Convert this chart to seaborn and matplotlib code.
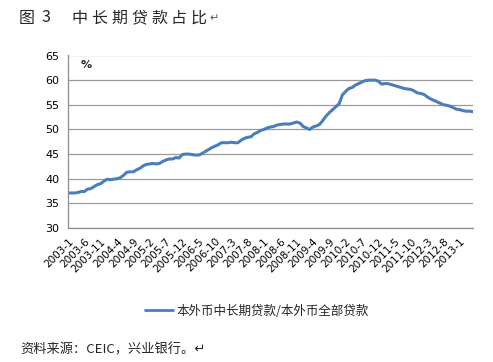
import numpy as np
import pandas as pd
import seaborn as sns
import matplotlib.pyplot as plt
from matplotlib.lines import Line2D

# ------------------ DATA ------------------
START_YEAR = 2003
START_MONTH = 1
ratio = [
    37.1, 37.1, 37.1, 37.2, 37.4, 37.4, 37.9, 38.0, 38.4, 38.8,
    39.0, 39.5, 39.9, 39.8, 39.9, 40.0, 40.2, 40.7, 41.3, 41.4,
    41.4, 41.8, 42.1, 42.6, 42.9, 43.0, 43.1, 43.0, 43.1, 43.5,
    43.8, 44.0, 44.0, 44.3, 44.2, 44.9, 45.0, 45.0, 44.9, 44.8,
    44.8, 45.1, 45.5, 45.9, 46.3, 46.6, 46.9, 47.3, 47.3, 47.3,
    47.4, 47.3, 47.3, 47.8, 48.2, 48.4, 48.5, 49.1, 49.4, 49.8,
    50.0, 50.3, 50.5, 50.6, 50.9, 51.0, 51.1, 51.1, 51.1, 51.3,
    51.5, 51.3, 50.6, 50.3, 50.0, 50.5, 50.7, 51.0, 51.8, 52.7,
    53.4, 54.0, 54.6, 55.2, 57.0, 57.7, 58.3, 58.5, 59.0, 59.3,
    59.6, 59.9, 60.0, 60.0, 60.0, 59.8, 59.2, 59.3, 59.3, 59.1,
    58.9, 58.7, 58.5, 58.3, 58.2, 58.1, 57.8, 57.4, 57.3, 57.1,
    56.6, 56.2, 55.9, 55.6, 55.3, 55.0, 54.9, 54.7, 54.4, 54.1,
    54.0, 53.8, 53.7, 53.7, 53.6,
]
y_ticks = [30, 35, 40, 45, 50, 55, 60, 65]
series_name = '本外币中长期贷款/本外币全部贷款'
fig_label = '图'
fig_num = '3'
title = '中长期贷款占比'
source = '资料来源：CEIC，兴业银行。↵'
# ------------------------------------------

months = []
for i in range(len(ratio)):
    m = START_MONTH - 1 + i
    months.append(f"{START_YEAR + m // 12}-{m % 12 + 1}")
df = pd.DataFrame({'idx': range(len(ratio)), 'month': months, 'ratio': ratio})

sns.set_style('white')
plt.rcParams['font.family'] = ['Noto Sans CJK SC', 'DejaVu Sans']

W, H = 493, 362
fig = plt.figure(figsize=(W / 100, H / 100), dpi=100)
ax = fig.add_axes([68 / W, 1 - 228 / H, 405 / W, (228 - 55.5) / H])

line_color = '#4a7ebb'
sns.lineplot(data=df, x='idx', y='ratio', ax=ax, color=line_color, linewidth=2.2)

ax.set_xlim(0, len(ratio) - 1)
ax.set_ylim(30, 65)
ax.set_yticks(y_ticks)
ax.set_yticklabels([str(v) for v in y_ticks], fontsize=8, family='DejaVu Sans')
tick_idx = list(range(0, len(ratio), 5))
ax.set_xticks(tick_idx)
ax.set_xticklabels([months[i] for i in tick_idx], rotation=45, ha='right',
                   rotation_mode='anchor', fontsize=7.5, family='DejaVu Sans')
ax.set_xlabel('')
ax.set_ylabel('')

ax.grid(axis='y', color='#9a9a9a', linewidth=0.9)
ax.grid(axis='x', visible=False)
for s in ['top', 'right']:
    ax.spines[s].set_visible(False)
for s in ['left', 'bottom']:
    ax.spines[s].set_color('#8c8c8c')
    ax.spines[s].set_linewidth(0.9)
ax.tick_params(axis='both', direction='out', length=4, width=0.8, color='#8c8c8c',
               labelcolor='black', pad=2)

ax.text(0.03, 0.93, '%', transform=ax.transAxes, fontsize=8, fontweight='bold',
        family='DejaVu Sans')

# title, spaced out like the original document heading
ty = 1 - 18 / H
fig.text(19 / W, ty, fig_label, fontsize=11.5, va='center', ha='left')
fig.text(42 / W, ty, fig_num, fontsize=11.5, va='center', ha='left')
for i, ch in enumerate(title):
    fig.text((71 + 20 * i) / W, ty, ch, fontsize=11.5, va='center', ha='left')
fig.text((71 + 20 * len(title) - 2) / W, ty, '↵', fontsize=8, va='center', ha='left',
         color='#555555', family='DejaVu Sans')

handle = Line2D([0], [0], color=line_color, linewidth=2)
fig.legend([handle], [series_name], loc='center', bbox_to_anchor=(257 / W, 1 - 311 / H),
           frameon=False, fontsize=9, handlelength=2.2, handletextpad=0.3)

fig.text(20 / W, 1 - 350 / H, source, fontsize=9.5, va='center', ha='left')

fig.savefig('out.png', dpi=100)
